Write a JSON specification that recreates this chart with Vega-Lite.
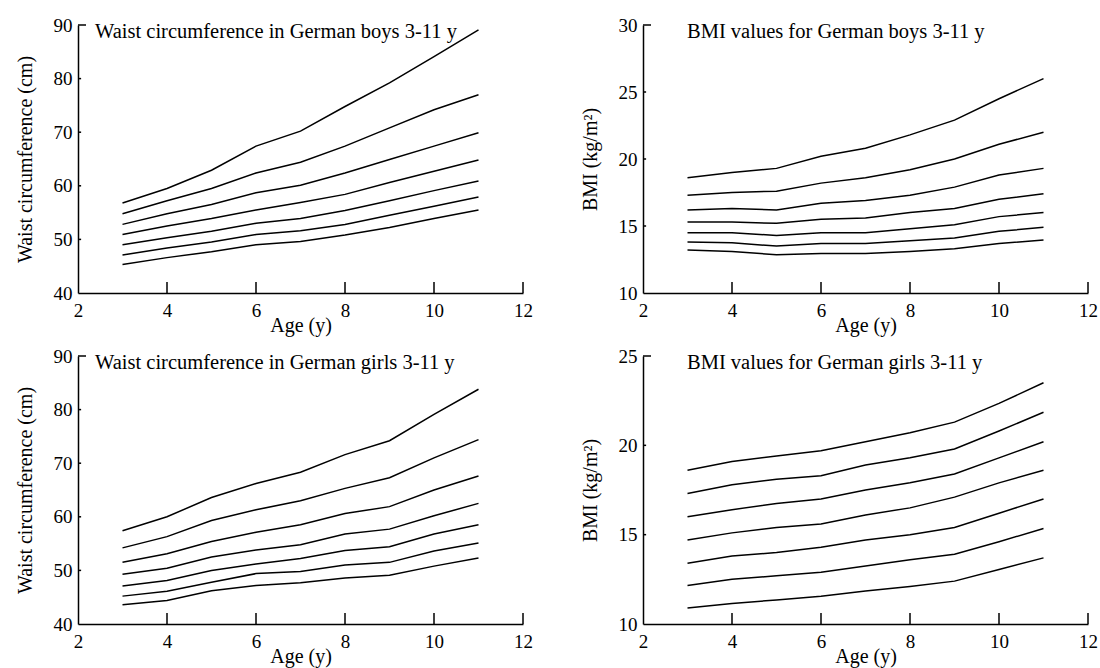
{
  "$schema": "https://vega.github.io/schema/vega-lite/v6.json",
  "padding": {"left": 15, "top": 16, "right": 5, "bottom": 5},
  "background": "white",
  "datasets": {
    "xt": [{"t": 4}, {"t": 6}, {"t": 8}, {"t": 10}, {"t": 12}],
    "ytw": [{"t": 50}, {"t": 60}, {"t": 70}, {"t": 80}],
    "ytb": [{"t": 15}, {"t": 20}, {"t": 25}],
    "ytg": [{"t": 15}, {"t": 20}],
    "wb": [
      {"a":3,"p":1,"v":56.8},{"a":4,"p":1,"v":59.5},{"a":5,"p":1,"v":62.9},{"a":6,"p":1,"v":67.4},{"a":7,"p":1,"v":70.2},{"a":8,"p":1,"v":74.8},{"a":9,"p":1,"v":79.2},{"a":10,"p":1,"v":84.1},{"a":11,"p":1,"v":89.1},
      {"a":3,"p":2,"v":54.8},{"a":4,"p":2,"v":57.2},{"a":5,"p":2,"v":59.5},{"a":6,"p":2,"v":62.4},{"a":7,"p":2,"v":64.4},{"a":8,"p":2,"v":67.4},{"a":9,"p":2,"v":70.8},{"a":10,"p":2,"v":74.2},{"a":11,"p":2,"v":77.0},
      {"a":3,"p":3,"v":52.8},{"a":4,"p":3,"v":54.8},{"a":5,"p":3,"v":56.5},{"a":6,"p":3,"v":58.7},{"a":7,"p":3,"v":60.1},{"a":8,"p":3,"v":62.4},{"a":9,"p":3,"v":64.9},{"a":10,"p":3,"v":67.4},{"a":11,"p":3,"v":69.9},
      {"a":3,"p":4,"v":50.9},{"a":4,"p":4,"v":52.5},{"a":5,"p":4,"v":53.9},{"a":6,"p":4,"v":55.5},{"a":7,"p":4,"v":56.9},{"a":8,"p":4,"v":58.4},{"a":9,"p":4,"v":60.6},{"a":10,"p":4,"v":62.7},{"a":11,"p":4,"v":64.8},
      {"a":3,"p":5,"v":49.0},{"a":4,"p":5,"v":50.3},{"a":5,"p":5,"v":51.5},{"a":6,"p":5,"v":53.0},{"a":7,"p":5,"v":53.9},{"a":8,"p":5,"v":55.4},{"a":9,"p":5,"v":57.2},{"a":10,"p":5,"v":59.1},{"a":11,"p":5,"v":60.9},
      {"a":3,"p":6,"v":47.1},{"a":4,"p":6,"v":48.4},{"a":5,"p":6,"v":49.5},{"a":6,"p":6,"v":50.9},{"a":7,"p":6,"v":51.6},{"a":8,"p":6,"v":52.8},{"a":9,"p":6,"v":54.5},{"a":10,"p":6,"v":56.2},{"a":11,"p":6,"v":57.9},
      {"a":3,"p":7,"v":45.3},{"a":4,"p":7,"v":46.6},{"a":5,"p":7,"v":47.7},{"a":6,"p":7,"v":49.0},{"a":7,"p":7,"v":49.6},{"a":8,"p":7,"v":50.8},{"a":9,"p":7,"v":52.2},{"a":10,"p":7,"v":53.9},{"a":11,"p":7,"v":55.5}
    ],
    "bb": [
      {"a":3,"p":1,"v":18.6},{"a":4,"p":1,"v":19.0},{"a":5,"p":1,"v":19.3},{"a":6,"p":1,"v":20.2},{"a":7,"p":1,"v":20.8},{"a":8,"p":1,"v":21.8},{"a":9,"p":1,"v":22.9},{"a":10,"p":1,"v":24.5},{"a":11,"p":1,"v":26.0},
      {"a":3,"p":2,"v":17.3},{"a":4,"p":2,"v":17.5},{"a":5,"p":2,"v":17.6},{"a":6,"p":2,"v":18.2},{"a":7,"p":2,"v":18.6},{"a":8,"p":2,"v":19.2},{"a":9,"p":2,"v":20.0},{"a":10,"p":2,"v":21.1},{"a":11,"p":2,"v":22.0},
      {"a":3,"p":3,"v":16.2},{"a":4,"p":3,"v":16.3},{"a":5,"p":3,"v":16.2},{"a":6,"p":3,"v":16.7},{"a":7,"p":3,"v":16.9},{"a":8,"p":3,"v":17.3},{"a":9,"p":3,"v":17.9},{"a":10,"p":3,"v":18.8},{"a":11,"p":3,"v":19.3},
      {"a":3,"p":4,"v":15.3},{"a":4,"p":4,"v":15.3},{"a":5,"p":4,"v":15.2},{"a":6,"p":4,"v":15.5},{"a":7,"p":4,"v":15.6},{"a":8,"p":4,"v":16.0},{"a":9,"p":4,"v":16.3},{"a":10,"p":4,"v":17.0},{"a":11,"p":4,"v":17.4},
      {"a":3,"p":5,"v":14.5},{"a":4,"p":5,"v":14.5},{"a":5,"p":5,"v":14.3},{"a":6,"p":5,"v":14.5},{"a":7,"p":5,"v":14.5},{"a":8,"p":5,"v":14.8},{"a":9,"p":5,"v":15.1},{"a":10,"p":5,"v":15.7},{"a":11,"p":5,"v":16.0},
      {"a":3,"p":6,"v":13.8},{"a":4,"p":6,"v":13.75},{"a":5,"p":6,"v":13.5},{"a":6,"p":6,"v":13.7},{"a":7,"p":6,"v":13.7},{"a":8,"p":6,"v":13.9},{"a":9,"p":6,"v":14.1},{"a":10,"p":6,"v":14.6},{"a":11,"p":6,"v":14.9},
      {"a":3,"p":7,"v":13.2},{"a":4,"p":7,"v":13.1},{"a":5,"p":7,"v":12.85},{"a":6,"p":7,"v":12.95},{"a":7,"p":7,"v":12.95},{"a":8,"p":7,"v":13.1},{"a":9,"p":7,"v":13.3},{"a":10,"p":7,"v":13.7},{"a":11,"p":7,"v":13.95}
    ],
    "wg": [
      {"a":3,"p":1,"v":57.4},{"a":4,"p":1,"v":60.0},{"a":5,"p":1,"v":63.6},{"a":6,"p":1,"v":66.2},{"a":7,"p":1,"v":68.3},{"a":8,"p":1,"v":71.6},{"a":9,"p":1,"v":74.2},{"a":10,"p":1,"v":79.1},{"a":11,"p":1,"v":83.8},
      {"a":3,"p":2,"v":54.2},{"a":4,"p":2,"v":56.3},{"a":5,"p":2,"v":59.3},{"a":6,"p":2,"v":61.3},{"a":7,"p":2,"v":63.0},{"a":8,"p":2,"v":65.3},{"a":9,"p":2,"v":67.3},{"a":10,"p":2,"v":71.0},{"a":11,"p":2,"v":74.4},
      {"a":3,"p":3,"v":51.5},{"a":4,"p":3,"v":53.1},{"a":5,"p":3,"v":55.4},{"a":6,"p":3,"v":57.1},{"a":7,"p":3,"v":58.5},{"a":8,"p":3,"v":60.6},{"a":9,"p":3,"v":61.9},{"a":10,"p":3,"v":65.0},{"a":11,"p":3,"v":67.6},
      {"a":3,"p":4,"v":49.3},{"a":4,"p":4,"v":50.4},{"a":5,"p":4,"v":52.5},{"a":6,"p":4,"v":53.8},{"a":7,"p":4,"v":54.8},{"a":8,"p":4,"v":56.8},{"a":9,"p":4,"v":57.7},{"a":10,"p":4,"v":60.2},{"a":11,"p":4,"v":62.5},
      {"a":3,"p":5,"v":47.1},{"a":4,"p":5,"v":48.1},{"a":5,"p":5,"v":50.0},{"a":6,"p":5,"v":51.2},{"a":7,"p":5,"v":52.2},{"a":8,"p":5,"v":53.7},{"a":9,"p":5,"v":54.4},{"a":10,"p":5,"v":56.8},{"a":11,"p":5,"v":58.5},
      {"a":3,"p":6,"v":45.2},{"a":4,"p":6,"v":46.1},{"a":5,"p":6,"v":47.8},{"a":6,"p":6,"v":49.4},{"a":7,"p":6,"v":49.8},{"a":8,"p":6,"v":51.0},{"a":9,"p":6,"v":51.5},{"a":10,"p":6,"v":53.6},{"a":11,"p":6,"v":55.1},
      {"a":3,"p":7,"v":43.6},{"a":4,"p":7,"v":44.4},{"a":5,"p":7,"v":46.2},{"a":6,"p":7,"v":47.2},{"a":7,"p":7,"v":47.7},{"a":8,"p":7,"v":48.6},{"a":9,"p":7,"v":49.1},{"a":10,"p":7,"v":50.8},{"a":11,"p":7,"v":52.3}
    ],
    "bg": [
      {"a":3,"p":1,"v":18.6},{"a":4,"p":1,"v":19.1},{"a":5,"p":1,"v":19.4},{"a":6,"p":1,"v":19.7},{"a":7,"p":1,"v":20.2},{"a":8,"p":1,"v":20.7},{"a":9,"p":1,"v":21.3},{"a":10,"p":1,"v":22.35},{"a":11,"p":1,"v":23.5},
      {"a":3,"p":2,"v":17.3},{"a":4,"p":2,"v":17.8},{"a":5,"p":2,"v":18.1},{"a":6,"p":2,"v":18.3},{"a":7,"p":2,"v":18.9},{"a":8,"p":2,"v":19.3},{"a":9,"p":2,"v":19.8},{"a":10,"p":2,"v":20.8},{"a":11,"p":2,"v":21.85},
      {"a":3,"p":3,"v":16.0},{"a":4,"p":3,"v":16.4},{"a":5,"p":3,"v":16.75},{"a":6,"p":3,"v":17.0},{"a":7,"p":3,"v":17.5},{"a":8,"p":3,"v":17.9},{"a":9,"p":3,"v":18.4},{"a":10,"p":3,"v":19.3},{"a":11,"p":3,"v":20.2},
      {"a":3,"p":4,"v":14.7},{"a":4,"p":4,"v":15.1},{"a":5,"p":4,"v":15.4},{"a":6,"p":4,"v":15.6},{"a":7,"p":4,"v":16.1},{"a":8,"p":4,"v":16.5},{"a":9,"p":4,"v":17.1},{"a":10,"p":4,"v":17.9},{"a":11,"p":4,"v":18.6},
      {"a":3,"p":5,"v":13.4},{"a":4,"p":5,"v":13.8},{"a":5,"p":5,"v":14.0},{"a":6,"p":5,"v":14.3},{"a":7,"p":5,"v":14.7},{"a":8,"p":5,"v":15.0},{"a":9,"p":5,"v":15.4},{"a":10,"p":5,"v":16.2},{"a":11,"p":5,"v":17.0},
      {"a":3,"p":6,"v":12.15},{"a":4,"p":6,"v":12.5},{"a":5,"p":6,"v":12.7},{"a":6,"p":6,"v":12.9},{"a":7,"p":6,"v":13.25},{"a":8,"p":6,"v":13.6},{"a":9,"p":6,"v":13.9},{"a":10,"p":6,"v":14.6},{"a":11,"p":6,"v":15.35},
      {"a":3,"p":7,"v":10.9},{"a":4,"p":7,"v":11.15},{"a":5,"p":7,"v":11.35},{"a":6,"p":7,"v":11.55},{"a":7,"p":7,"v":11.85},{"a":8,"p":7,"v":12.1},{"a":9,"p":7,"v":12.4},{"a":10,"p":7,"v":13.05},{"a":11,"p":7,"v":13.7}
    ]
  },
  "concat": [
    {
      "width": 445, "height": 268,
      "title": {"text": "Waist circumference in German boys 3-11 y", "dx": 17},
      "layer": [
        {"data": {"name": "wb"},
         "mark": {"type": "line", "color": "black", "strokeWidth": 1.5},
         "encoding": {
           "x": {"field": "a", "type": "quantitative", "scale": {"domain": [2, 12], "nice": false}, "axis": {"title": "Age (y)", "values": [2, 4, 6, 8, 10, 12]}},
           "y": {"field": "v", "type": "quantitative", "scale": {"domain": [40, 90], "nice": false}, "axis": {"title": "Waist circumference (cm)", "values": [40, 50, 60, 70, 80, 90]}},
           "detail": {"field": "p"}}},
        {"data": {"name": "xt"},
         "mark": {"type": "rule", "color": "black", "strokeWidth": 1.5},
         "encoding": {"x": {"field": "t", "type": "quantitative"}, "y": {"datum": 40}, "y2": {"datum": 42.05}}},
        {"data": {"name": "ytw"},
         "mark": {"type": "rule", "color": "black", "strokeWidth": 1.5},
         "encoding": {"y": {"field": "t", "type": "quantitative"}, "x": {"datum": 2}, "x2": {"datum": 2.07}}},
        {"data": {"values": [{"t": 90}]},
         "mark": {"type": "rule", "color": "black", "strokeWidth": 1.5},
         "encoding": {"y": {"field": "t", "type": "quantitative"}, "x": {"datum": 2}, "x2": {"datum": 2.18}}}
      ]
    },
    {
      "width": 445, "height": 268,
      "title": {"text": "BMI values for German boys 3-11 y", "dx": 44},
      "layer": [
        {"data": {"name": "bb"},
         "mark": {"type": "line", "color": "black", "strokeWidth": 1.5},
         "encoding": {
           "x": {"field": "a", "type": "quantitative", "scale": {"domain": [2, 12], "nice": false}, "axis": {"title": "Age (y)", "values": [2, 4, 6, 8, 10, 12]}},
           "y": {"field": "v", "type": "quantitative", "scale": {"domain": [10, 30], "nice": false}, "axis": {"title": "BMI (kg/m²)", "values": [10, 15, 20, 25, 30]}},
           "detail": {"field": "p"}}},
        {"data": {"name": "xt"},
         "mark": {"type": "rule", "color": "black", "strokeWidth": 1.5},
         "encoding": {"x": {"field": "t", "type": "quantitative"}, "y": {"datum": 10}, "y2": {"datum": 10.82}}},
        {"data": {"name": "ytb"},
         "mark": {"type": "rule", "color": "black", "strokeWidth": 1.5},
         "encoding": {"y": {"field": "t", "type": "quantitative"}, "x": {"datum": 2}, "x2": {"datum": 2.07}}},
        {"data": {"values": [{"t": 30}]},
         "mark": {"type": "rule", "color": "black", "strokeWidth": 1.5},
         "encoding": {"y": {"field": "t", "type": "quantitative"}, "x": {"datum": 2}, "x2": {"datum": 2.18}}}
      ]
    },
    {
      "width": 445, "height": 268,
      "title": {"text": "Waist circumference in German girls 3-11 y", "dx": 17},
      "layer": [
        {"data": {"name": "wg"},
         "mark": {"type": "line", "color": "black", "strokeWidth": 1.5},
         "encoding": {
           "x": {"field": "a", "type": "quantitative", "scale": {"domain": [2, 12], "nice": false}, "axis": {"title": "Age (y)", "values": [2, 4, 6, 8, 10, 12]}},
           "y": {"field": "v", "type": "quantitative", "scale": {"domain": [40, 90], "nice": false}, "axis": {"title": "Waist circumference (cm)", "values": [40, 50, 60, 70, 80, 90]}},
           "detail": {"field": "p"}}},
        {"data": {"name": "xt"},
         "mark": {"type": "rule", "color": "black", "strokeWidth": 1.5},
         "encoding": {"x": {"field": "t", "type": "quantitative"}, "y": {"datum": 40}, "y2": {"datum": 42.05}}},
        {"data": {"name": "ytw"},
         "mark": {"type": "rule", "color": "black", "strokeWidth": 1.5},
         "encoding": {"y": {"field": "t", "type": "quantitative"}, "x": {"datum": 2}, "x2": {"datum": 2.07}}},
        {"data": {"values": [{"t": 90}]},
         "mark": {"type": "rule", "color": "black", "strokeWidth": 1.5},
         "encoding": {"y": {"field": "t", "type": "quantitative"}, "x": {"datum": 2}, "x2": {"datum": 2.18}}}
      ]
    },
    {
      "width": 445, "height": 268,
      "title": {"text": "BMI values for German girls 3-11 y", "dx": 44},
      "layer": [
        {"data": {"name": "bg"},
         "mark": {"type": "line", "color": "black", "strokeWidth": 1.5},
         "encoding": {
           "x": {"field": "a", "type": "quantitative", "scale": {"domain": [2, 12], "nice": false}, "axis": {"title": "Age (y)", "values": [2, 4, 6, 8, 10, 12]}},
           "y": {"field": "v", "type": "quantitative", "scale": {"domain": [10, 25], "nice": false}, "axis": {"title": "BMI (kg/m²)", "values": [10, 15, 20, 25]}},
           "detail": {"field": "p"}}},
        {"data": {"name": "xt"},
         "mark": {"type": "rule", "color": "black", "strokeWidth": 1.5},
         "encoding": {"x": {"field": "t", "type": "quantitative"}, "y": {"datum": 10}, "y2": {"datum": 10.616}}},
        {"data": {"name": "ytg"},
         "mark": {"type": "rule", "color": "black", "strokeWidth": 1.5},
         "encoding": {"y": {"field": "t", "type": "quantitative"}, "x": {"datum": 2}, "x2": {"datum": 2.07}}},
        {"data": {"values": [{"t": 25}]},
         "mark": {"type": "rule", "color": "black", "strokeWidth": 1.5},
         "encoding": {"y": {"field": "t", "type": "quantitative"}, "x": {"datum": 2}, "x2": {"datum": 2.18}}}
      ]
    }
  ],
  "columns": 2,
  "spacing": {"row": 63, "column": 120},
  "bounds": "flush",
  "config": {
    "view": {"stroke": null},
    "font": "Liberation Serif",
    "axis": {
      "grid": false,
      "ticks": false,
      "domainColor": "black",
      "domainWidth": 1.5,
      "labelColor": "black",
      "titleColor": "black",
      "labelFont": "Liberation Serif",
      "titleFont": "Liberation Serif",
      "labelFontSize": 19,
      "titleFontSize": 20,
      "titleFontWeight": "normal",
      "labelOverlap": false
    },
    "axisX": {"labelPadding": 8, "titlePadding": -5, "labelFlush": false},
    "axisY": {"labelPadding": 6, "titlePadding": 18},
    "title": {"anchor": "start", "frame": "group", "baseline": "alphabetic", "offset": -26, "font": "Liberation Serif", "fontSize": 20.5, "fontWeight": "normal", "color": "black"}
  }
}
